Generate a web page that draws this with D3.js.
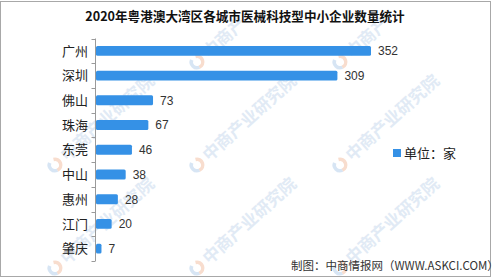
<!DOCTYPE html>
<html>
<head>
<meta charset="utf-8">
<script src="https://cdn.jsdelivr.net/npm/d3@7"></script>
<style>
  html, body { margin: 0; padding: 0; background: #fff; }
  svg { display: block; }
</style>
</head>
<body>
<svg id="chart" width="499" height="279"></svg>
<script>
// Data: number of medical-device tech SMEs per city, 2020
const cities = ["广州", "深圳", "佛山", "珠海", "东莞", "中山", "惠州", "江门", "肇庆"];
const counts = [352, 309, 73, 67, 46, 38, 28, 20, 7];
const titleText = "2020年粤港澳大湾区各城市医械科技型中小企业数量统计";
const legendText = "单位：家";
const sourceText = "制图：中商情报网（WWW.ASKCI.COM）";
const watermarkText = "中商产业研究院";

const W = 499, H = 279;
const barColor = "#3591e6";
const cjk = "'Noto Sans CJK SC', 'Noto Sans', sans-serif";
const latin = "'Liberation Sans', Arial, sans-serif";

const svg = d3.select("#chart");

// Faint diagonal watermarks on a grid; the top row only has room for a short stamp
const wmSpots = [
  { x: 197, y: 62, t: watermarkText.slice(0, 3) },
  { x: 340, y: 62, t: watermarkText.slice(0, 3) },
  { x: 55, y: 165, t: watermarkText },
  { x: 197, y: 165, t: watermarkText },
  { x: 340, y: 165, t: watermarkText },
  { x: 55, y: 268, t: watermarkText },
  { x: 197, y: 268, t: watermarkText },
  { x: 340, y: 268, t: watermarkText }
];
const wm = svg.append("g").attr("class", "watermarks");
wmSpots.forEach(s => {
  const g = wm.append("g").attr("transform", `translate(${s.x},${s.y}) rotate(-42)`);
  g.append("path")
    .attr("d", d3.arc()({ innerRadius: 4, outerRadius: 7.5, startAngle: Math.PI * 0.15, endAngle: Math.PI * 1.1 }))
    .attr("fill", "#f3c6ad").attr("opacity", 0.6);
  g.append("path")
    .attr("d", d3.arc()({ innerRadius: 4, outerRadius: 7.5, startAngle: Math.PI * 1.1, endAngle: Math.PI * 1.85 }))
    .attr("fill", "#bcd3ec").attr("opacity", 0.6);
  g.append("text")
    .attr("x", 11).attr("y", 6)
    .attr("font-family", cjk).attr("font-size", 17).attr("font-weight", 700)
    .attr("fill", "#c9daee").attr("opacity", 0.55)
    .text(s.t);
});

// Outer frame
svg.append("rect")
  .attr("x", 0.5).attr("y", 1.5).attr("width", 490).attr("height", 275)
  .attr("fill", "none").attr("stroke", "#a8a8a8").attr("stroke-width", 1);

// Title
svg.append("text")
  .attr("x", 245).attr("y", 21)
  .attr("text-anchor", "middle")
  .attr("font-family", cjk).attr("font-size", 12.6).attr("font-weight", 700)
  .attr("fill", "#111")
  .text(titleText);

// Scales
const x = d3.scaleLinear().domain([0, 400]).range([96, 408.5]);
const y = d3.scaleBand().domain(cities).range([38.5, 261]).paddingInner(0.6).paddingOuter(0.3);

// Category axis with ticks on band boundaries
const axisX = 95.5;
const axisG = svg.append("g").attr("class", "y-axis");
axisG.append("line")
  .attr("x1", axisX).attr("x2", axisX)
  .attr("y1", y.range()[0]).attr("y2", y.range()[1])
  .attr("stroke", "#9a9a9a");
const bounds = cities.map(c => y(c) - y.step() * y.paddingOuter()).concat([y.range()[1]]);
axisG.selectAll("line.tick").data(bounds).join("line")
  .attr("class", "tick")
  .attr("x1", axisX - 4).attr("x2", axisX)
  .attr("y1", d => Math.round(d) + 0.5).attr("y2", d => Math.round(d) + 0.5)
  .attr("stroke", "#9a9a9a");
axisG.selectAll("text").data(cities).join("text")
  .attr("x", 88).attr("y", d => y(d) + y.bandwidth() / 2)
  .attr("dy", "0.36em")
  .attr("text-anchor", "end")
  .attr("font-family", cjk).attr("font-size", 13)
  .attr("fill", "#222")
  .text(d => d);

// Bars
const rows = cities.map((c, i) => ({ city: c, value: counts[i] }));
svg.append("g").selectAll("rect").data(rows).join("rect")
  .attr("x", x(0))
  .attr("y", d => y(d.city))
  .attr("width", d => x(d.value) - x(0))
  .attr("height", y.bandwidth())
  .attr("rx", 1.5)
  .attr("fill", barColor);

// Value labels
svg.append("g").selectAll("text").data(rows).join("text")
  .attr("x", d => x(d.value) + 7)
  .attr("y", d => y(d.city) + y.bandwidth() / 2)
  .attr("dy", "0.36em")
  .attr("font-family", latin).attr("font-size", 12)
  .attr("fill", "#333")
  .text(d => d.value);

// Legend
svg.append("rect")
  .attr("x", 393).attr("y", 149).attr("width", 8).attr("height", 8)
  .attr("fill", barColor);
svg.append("text")
  .attr("x", 404).attr("y", 157.5)
  .attr("font-family", cjk).attr("font-size", 13)
  .attr("fill", "#222")
  .text(legendText);

// Source note
svg.append("text")
  .attr("x", 291).attr("y", 270)
  .attr("font-family", cjk).attr("font-size", 11.5)
  .attr("fill", "#333")
  .text(sourceText);
</script>
</body>
</html>
